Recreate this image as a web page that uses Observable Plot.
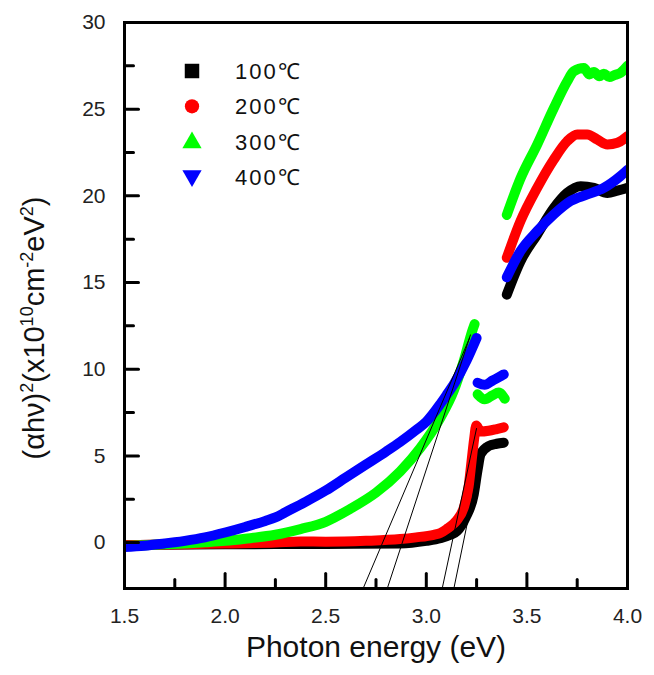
<!DOCTYPE html>
<html>
<head>
<meta charset="utf-8">
<script src="https://cdn.jsdelivr.net/npm/d3@7"></script>
<script src="https://cdn.jsdelivr.net/npm/@observablehq/plot@0.6"></script>
<style>
  html, body { margin: 0; padding: 0; background: #fff; }
  #chart { width: 654px; height: 675px; }
</style>
</head>
<body>
<div id="chart"></div>
<script>
// ---- data ----
const seriesNames = ["100℃", "200℃", "300℃", "400℃"];
const seriesColors = ["#000000", "#ff0000", "#00ff00", "#0000ff"];
const legendSymbols = ["square", "circle", "triangle", "triangleDown"];

const xMajor = [1.5, 2.0, 2.5, 3.0, 3.5, 4.0];
const xMinor = [1.75, 2.25, 2.75, 3.25, 3.75];
const yMajor = [0, 5, 10, 15, 20, 25, 30];
const yMinor = [2.5, 7.5, 12.5, 17.5, 22.5, 27.5];

// each series: list of measured segments, points [photon energy, (αhν)²]
const t100 = [
  [[1.5,-0.15],[2.0,-0.1],[2.5,-0.08],[2.87,-0.05],[3.0,0.1],[3.07,0.25],[3.12,0.45],[3.153,0.67],[3.195,1.44],[3.236,2.79],[3.255,4.2],[3.27,5.1],[3.31,5.57],[3.35,5.7],[3.385,5.76]],
  [[3.40,14.3],[3.468,16.23],[3.551,17.77],[3.634,19.3],[3.7,20.17],[3.767,20.56],[3.833,20.46],[3.9,20.17],[3.95,20.3],[4.0,20.46]]
];
const t200 = [
  [[1.5,-0.15],[1.8,-0.1],[2.0,-0.05],[2.25,0.0],[2.375,0.06],[2.5,0.05],[2.7,0.1],[2.87,0.2],[2.95,0.3],[3.037,0.45],[3.07,0.55],[3.104,0.8],[3.137,1.1],[3.153,1.3],[3.186,2.0],[3.21,3.2],[3.225,4.7],[3.238,6.0],[3.248,6.75],[3.27,6.4],[3.31,6.45],[3.35,6.55],[3.385,6.65]],
  [[3.40,16.43],[3.468,18.54],[3.551,20.46],[3.634,22.1],[3.7,23.15],[3.75,23.54],[3.8,23.54],[3.85,23.25],[3.9,22.96],[3.95,23.06],[4.0,23.44]]
];
const t300 = [
  [[1.5,-0.2],[1.7,-0.1],[1.8,-0.05],[1.9,0.02],[2.0,0.1],[2.1,0.22],[2.25,0.45],[2.375,0.78],[2.5,1.2],[2.623,1.95],[2.75,2.88],[2.87,4.1],[2.97,5.45],[3.07,7.2],[3.136,8.74],[3.186,10.47],[3.228,12.2],[3.24,12.6]],
  [[3.255,8.55],[3.29,8.26],[3.33,8.5],[3.36,8.65],[3.39,8.3]],
  [[3.40,18.9],[3.468,21.0],[3.551,22.96],[3.634,25.07],[3.7,26.6],[3.733,27.19],[3.783,27.38],[3.81,27.0],[3.833,27.15],[3.86,26.9],[3.882,27.05],[3.91,26.85],[3.932,26.95],[3.965,27.1],[4.0,27.5]]
];
const t400 = [
  [[1.5,-0.25],[1.6,-0.18],[1.7,-0.05],[1.75,0.02],[1.8,0.1],[1.9,0.3],[2.0,0.58],[2.1,0.9],[2.2,1.25],[2.25,1.45],[2.3,1.75],[2.4,2.35],[2.5,3.0],[2.6,3.75],[2.7,4.5],[2.8,5.25],[2.87,5.8],[2.95,6.5],[3.0,6.97],[3.07,8.0],[3.1,8.5],[3.14,9.2],[3.2,10.5],[3.25,11.8]],
  [[3.255,9.22],[3.29,9.1],[3.33,9.35],[3.37,9.6],[3.385,9.7]],
  [[3.40,15.3],[3.468,16.81],[3.551,17.96],[3.634,18.93],[3.717,19.7],[3.8,20.08],[3.882,20.46],[3.965,21.14],[4.0,21.5]]
];
const seriesData = [t100, t200, t300, t400];

// linear-extrapolation (Tauc) lines: start and end points
const tanX1 = [2.686, 2.806, 3.079, 3.137];
const tanY1 = [-2.65, -2.65, -2.65, -2.65];
const tanX2 = [3.215, 3.22, 3.25, 3.285];
const tanY2 = [11.8, 12.0, 6.6, 5.7];

const xTitle = "Photon energy (eV)";

// ---- build rows ----
const rows = [];
seriesData.forEach((segs, si) => {
  segs.forEach((seg, gi) => {
    seg.forEach(([x, y]) => rows.push({series: seriesNames[si], seg: seriesNames[si] + "-" + gi, x, y}));
  });
});
const tangents = tanX1.map((_, i) => ({x1: tanX1[i], y1: tanY1[i], x2: tanX2[i], y2: tanY2[i]}));

const tickShape = {draw(ctx, l) { ctx.moveTo(0, 0); ctx.lineTo(0, -l); }};
const FONT = "'Liberation Sans', Arial, sans-serif";

const chart = Plot.plot({
  width: 654,
  height: 675,
  marginLeft: 124,
  marginRight: 27,
  marginTop: 22,
  marginBottom: 87,
  style: {fontFamily: FONT, background: "#fff", color: "#222"},
  x: {domain: [1.5, 4.0]},
  y: {domain: [-2.65, 30]},
  color: {domain: seriesNames, range: seriesColors},
  marks: [
    Plot.line(rows, {x: "x", y: "y", z: "seg", stroke: "series", strokeWidth: 10, curve: "monotone-x", clip: true}),
    Plot.link(tangents, {x1: "x1", y1: "y1", x2: "x2", y2: "y2", stroke: "#000", strokeWidth: 1, clip: true}),
    Plot.vector(xMajor, {x: d => d, frameAnchor: "bottom", length: 15, anchor: "start", rotate: 0, shape: tickShape, stroke: "#000", strokeWidth: 3}),
    Plot.vector(xMinor, {x: d => d, frameAnchor: "bottom", length: 9, anchor: "start", rotate: 0, shape: tickShape, stroke: "#000", strokeWidth: 3}),
    Plot.vector(yMajor, {y: d => d, frameAnchor: "left", length: 14, anchor: "start", rotate: 90, shape: tickShape, stroke: "#000", strokeWidth: 3}),
    Plot.vector(yMinor, {y: d => d, frameAnchor: "left", length: 9, anchor: "start", rotate: 90, shape: tickShape, stroke: "#000", strokeWidth: 3}),
    Plot.axisX({ticks: xMajor, tickSize: 0, tickPadding: 20, tickFormat: d3.format(".1f"), fontSize: 21, label: null}),
    Plot.axisY({ticks: yMajor, tickSize: 0, tickPadding: 19, fontSize: 21, label: null}),
    Plot.text([xTitle], {text: d => d, frameAnchor: "bottom", dy: 68, fontSize: 30, fill: "#111"}),
    Plot.frame({stroke: "#000", strokeWidth: 3})
  ]
});

document.getElementById("chart").appendChild(chart);

// ---- y-axis title with superscripts ----
const svg = d3.select(chart);
const yt = svg.append("text")
  .attr("transform", "translate(44,328) rotate(-90)")
  .attr("text-anchor", "middle")
  .attr("font-family", FONT)
  .attr("font-size", 29)
  .attr("fill", "#111");
const parts = [["(αhν)", false], ["2", true], ["(x10", false], ["10", true], ["cm", false], ["-2", true], ["eV", false], ["2", true], [")", false]];
let up = false;
parts.forEach(([t, sup]) => {
  const ts = yt.append("tspan").text(t);
  if (sup && !up) { ts.attr("dy", -11).attr("font-size", 18); up = true; }
  else if (sup) { ts.attr("font-size", 18); }
  else if (!sup && up) { ts.attr("dy", 11); up = false; }
});

// ---- legend inside the plot ----
const lg = svg.append("g").attr("font-family", FONT).attr("text-anchor", "start");
seriesNames.forEach((name, i) => {
  const cy = 71 + i * 35.3;
  const sym = {square: d3.symbolSquare, circle: d3.symbolCircle, triangle: d3.symbolTriangle, triangleDown: d3.symbolTriangle}[legendSymbols[i]];
  const size = {square: 210, circle: 160, triangle: 160, triangleDown: 160}[legendSymbols[i]];
  lg.append("path")
    .attr("d", d3.symbol(sym, size)())
    .attr("transform", `translate(192,${cy + (i === 2 ? 1 : i === 3 ? -1 : 0)})` + (legendSymbols[i] === "triangleDown" ? " rotate(180)" : ""))
    .attr("fill", seriesColors[i]);
  lg.append("text")
    .attr("x", 235)
    .attr("y", cy)
    .attr("dy", "0.36em")
    .attr("font-size", 22)
    .attr("letter-spacing", "2px")
    .attr("fill", "#111")
    .text(name);
});
</script>
</body>
</html>
